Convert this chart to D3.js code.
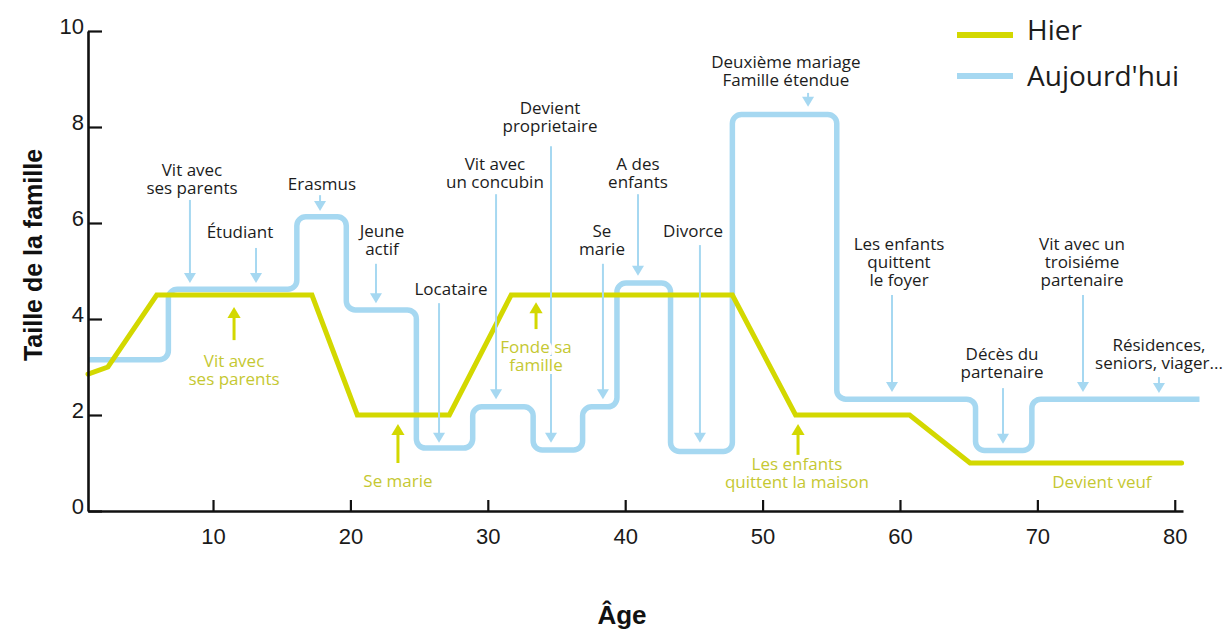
<!DOCTYPE html>
<html lang="fr">

<head>
	<meta charset="utf-8">
	<title>Taille de la famille</title>
	<script type="text/javascript" src="https://cdn.jsdelivr.net/npm/d3@7"></script>
	<style type="text/css">
		body {
			margin: 0;
			background: #ffffff;
		}

		svg {
			display: block;
		}

		.axis text {
			font-family: "Liberation Sans", Arial, sans-serif;
			font-size: 22px;
			fill: #1a1a1a;
		}

		.axis path,
		.axis line {
			stroke: #111111;
		}

		.note {
			font-family: "Open Sans", sans-serif;
			font-size: 17px;
		}
	</style>
</head>

<body>
	<script type="text/javascript">
		//Hier : age / taille de la famille (points de la ligne brisee)
		var hierAges = [0.9, 2.35, 5.9, 17.2, 20.5, 27.2, 31.7, 47.8, 52.4, 60.7, 65.1, 80.5];
		var hierValues = [2.85, 3.0, 4.5, 4.5, 2.0, 2.0, 4.5, 4.5, 2.0, 2.0, 1.0, 1.0];

		//Aujourd'hui : paliers (age de debut de chaque palier, puis age de fin)
		var todayAges = [0.9, 6.75, 16.1, 19.7, 24.8, 28.9, 33.3, 36.9, 39.4, 43.3, 47.8, 55.4, 65.5, 69.6, 81.8];
		var todayLevels = [3.15, 4.62, 6.13, 4.19, 1.31, 2.17, 1.27, 2.17, 4.75, 1.24, 8.26, 2.33, 1.26, 2.33];

		//Ticks
		var xTicks = [10, 20, 30, 40, 50, 60, 70, 80];
		var yTicks = [0, 2, 4, 6, 8, 10];

		//Notes for the blue line: text lines, label age/value, arrow age, arrow start and tip values
		var todayNoteText = [
			["Vit avec", "ses parents"],
			["Étudiant"],
			["Erasmus"],
			["Jeune", "actif"],
			["Locataire"],
			["Vit avec", "un concubin"],
			["Devient", "proprietaire"],
			["Se", "marie"],
			["A des", "enfants"],
			["Divorce"],
			["Deuxième mariage", "Famille étendue"],
			["Les enfants", "quittent", "le foyer"],
			["Vit avec un", "troisiéme", "partenaire"],
			["Décès du", "partenaire"],
			["Résidences,", "seniors, viager..."]
		];
		var todayNoteAge = [8.47, 11.96, 17.93, 22.3, 27.32, 30.52, 34.53, 38.31, 40.93, 44.94, 51.7, 59.93, 73.25, 67.43, 78.85];
		var todayNoteValue = [6.98, 5.69, 6.69, 5.71, 4.5, 7.1, 8.27, 5.71, 7.1, 5.71, 9.23, 5.44, 5.44, 3.15, 3.33];
		var todayArrowAge = [8.32, 13.13, 17.79, 21.86, 26.45, 30.6, 34.6, 38.38, 40.93, 45.44, 53.31, 59.42, 73.32, 67.5, 78.85];
		var todayArrowFrom = [6.48, 5.48, 6.58, 5.15, 4.33, 6.6, 7.6, 5.15, 6.6, 5.54, 8.71, 4.5, 4.5, 2.56, 2.79];
		var todayArrowTo = [4.75, 4.75, 6.25, 4.33, 1.42, 2.33, 1.42, 2.33, 4.9, 1.42, 8.42, 2.48, 2.48, 1.4, 2.46];

		//Notes for the yellow line (arrows point up)
		var hierNoteText = [
			["Vit avec", "ses parents"],
			["Se marie"],
			["Fonde sa", "famille"],
			["Les enfants", "quittent la maison"],
			["Devient veuf"]
		];
		var hierNoteAge = [11.53, 23.46, 33.51, 52.5, 74.7];
		var hierNoteValue = [3.0, 0.5, 3.29, 0.85, 0.48];
		var hierArrowAge = [11.53, 23.46, 33.51, 52.58, null];
		var hierArrowFrom = [3.56, 1.0, 3.79, 1.17, null];
		var hierArrowTo = [4.25, 1.81, 4.35, 1.81, null];

		//Legend
		var seriesNames = ["Hier", "Aujourd'hui"];

		var yellow = "#d3d800";
		var yellowText = "#c5c832";
		var blue = "#a6d8f1";
		var ink = "#1c1c1c";

		//Width and height
		var w = 1229;
		var h = 632;

		var svg = d3.select("body")
			.append("svg")
			.attr("width", w)
			.attr("height", h);

		//Scales
		var x = d3.scaleLinear()
			.domain([0.9, 80.6])
			.range([88, 1183]);

		var y = d3.scaleLinear()
			.domain([0, 10])
			.range([511, 31]);

		//Blue step line, rounded corners
		var stepPoints = [];
		todayLevels.forEach(function(v, i) {
			stepPoints.push([x(todayAges[i]), y(v)]);
			stepPoints.push([x(todayAges[i + 1]), y(v)]);
		});

		var stepPath = d3.path();
		stepPath.moveTo(stepPoints[0][0], stepPoints[0][1]);
		for (var i = 1; i < stepPoints.length - 1; i++) {
			var p = stepPoints[i];
			var prev = stepPoints[i - 1];
			var next = stepPoints[i + 1];
			var lenA = Math.hypot(p[0] - prev[0], p[1] - prev[1]);
			var lenB = Math.hypot(next[0] - p[0], next[1] - p[1]);
			var r = Math.min(9, lenA / 2, lenB / 2);
			stepPath.arcTo(p[0], p[1], next[0], next[1], r);
		}
		var last = stepPoints[stepPoints.length - 1];
		stepPath.lineTo(last[0], last[1]);

		svg.append("path")
			.attr("d", stepPath.toString())
			.attr("fill", "none")
			.attr("stroke", blue)
			.attr("stroke-width", 5.5);

		//Yellow line
		var line = d3.line()
			.x(function(d, i) { return x(hierAges[i]); })
			.y(function(d) { return y(d); });

		svg.append("path")
			.attr("d", line(hierValues))
			.attr("fill", "none")
			.attr("stroke", yellow)
			.attr("stroke-width", 5)
			.attr("stroke-linecap", "round")
			.attr("stroke-linejoin", "miter");

		//Axes
		var yAxis = d3.axisLeft(y)
			.tickValues(yTicks)
			.tickSizeInner(-14)
			.tickSizeOuter(0)
			.tickPadding(4);

		var gy = svg.append("g")
			.attr("class", "axis")
			.attr("transform", "translate(" + x(0.9) + ",0)")
			.call(yAxis);
		gy.selectAll("text")
			.attr("dy", null)
			.attr("y", 2);

		var xAxis = d3.axisBottom(x)
			.tickValues(xTicks)
			.tickSizeInner(-11)
			.tickSizeOuter(0)
			.tickPadding(0);

		var gx = svg.append("g")
			.attr("class", "axis")
			.attr("transform", "translate(0," + y(0) + ")")
			.call(xAxis);
		gx.selectAll("text")
			.attr("dy", null)
			.attr("y", 33);

		svg.selectAll(".axis .domain").attr("stroke-width", 2.6);
		svg.selectAll(".axis .tick line").attr("stroke-width", 2.2);

		//Axis titles
		svg.append("text")
			.attr("transform", "translate(42,255) rotate(-90)")
			.attr("text-anchor", "middle")
			.style("font-family", "'Liberation Sans', Arial, sans-serif")
			.style("font-weight", "bold")
			.style("font-size", "25px")
			.style("fill", "#111")
			.text("Taille de la famille");

		svg.append("text")
			.attr("x", 622)
			.attr("y", 624)
			.attr("text-anchor", "middle")
			.style("font-family", "'Liberation Sans', Arial, sans-serif")
			.style("font-weight", "bold")
			.style("font-size", "26px")
			.style("fill", "#111")
			.text("Âge");

		//Arrows
		function arrow(age, from, to, color, width, head) {
			var ax = x(age);
			var y1 = y(from);
			var y2 = y(to);
			var dir = y2 > y1 ? 1 : -1;
			svg.append("line")
				.attr("x1", ax)
				.attr("x2", ax)
				.attr("y1", y1)
				.attr("y2", y2 - dir * (head - 1))
				.attr("stroke", color)
				.attr("stroke-width", width);
			svg.append("path")
				.attr("d", "M" + (ax - head * 0.6) + "," + (y2 - dir * head) +
					"L" + (ax + head * 0.6) + "," + (y2 - dir * head) +
					"L" + ax + "," + y2 + "Z")
				.attr("fill", color);
		}

		//Multi-line labels
		function note(lines, age, value, color) {
			var t = svg.append("text")
				.attr("class", "note")
				.attr("x", x(age))
				.attr("y", y(value))
				.attr("text-anchor", "middle")
				.style("fill", color);
			t.selectAll("tspan")
				.data(lines)
				.enter()
				.append("tspan")
				.attr("x", x(age))
				.attr("dy", function(d, i) { return i === 0 ? 0 : 18; })
				.text(function(d) { return d; });
			return t;
		}

		todayNoteText.forEach(function(lines, i) {
			arrow(todayArrowAge[i], todayArrowFrom[i], todayArrowTo[i], blue, 2, 10);
		});

		hierNoteText.forEach(function(lines, i) {
			note(lines, hierNoteAge[i], hierNoteValue[i], yellowText)
				.style("stroke", "#ffffff")
				.style("stroke-width", 6)
				.style("paint-order", "stroke");
			if (hierArrowAge[i] !== null) {
				arrow(hierArrowAge[i], hierArrowFrom[i], hierArrowTo[i], yellow, 3, 11);
			}
		});

		todayNoteText.forEach(function(lines, i) {
			note(lines, todayNoteAge[i], todayNoteValue[i], ink);
		});

		//Legend
		var legendColors = [yellow, blue];
		var legendY = [35, 76];
		var legend = svg.selectAll(".legend")
			.data(seriesNames)
			.enter()
			.append("g")
			.attr("class", "legend");

		legend.append("line")
			.attr("x1", 957)
			.attr("x2", 1013)
			.attr("y1", function(d, i) { return legendY[i]; })
			.attr("y2", function(d, i) { return legendY[i]; })
			.attr("stroke", function(d, i) { return legendColors[i]; })
			.attr("stroke-width", 6);

		legend.append("text")
			.attr("x", 1027)
			.attr("y", function(d, i) { return legendY[i] + 5 + i * 5; })
			.style("font-family", "'Open Sans', sans-serif")
			.style("font-size", "28px")
			.style("fill", ink)
			.text(function(d) { return d; });
	</script>
</body>

</html>
